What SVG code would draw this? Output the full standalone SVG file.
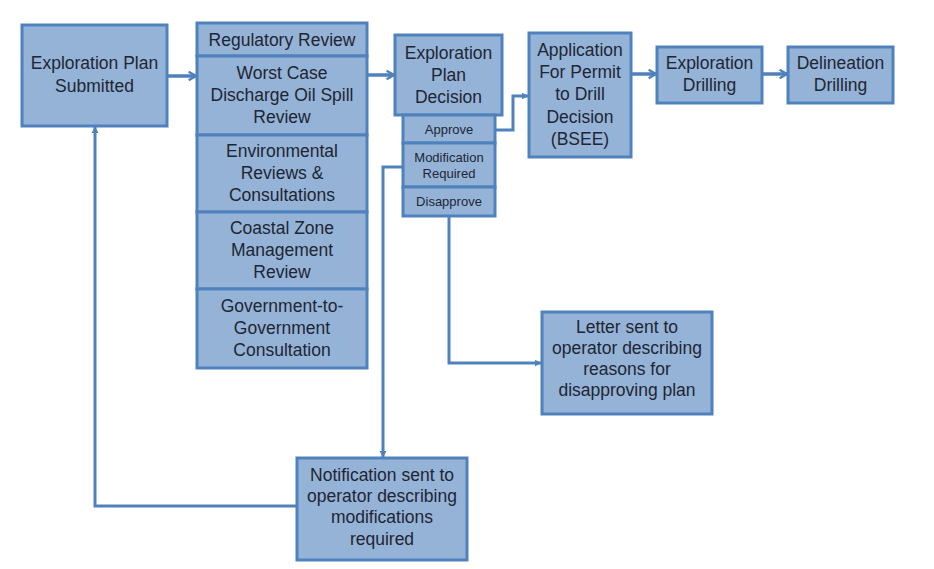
<svg xmlns="http://www.w3.org/2000/svg" width="934" height="569" viewBox="0 0 934 569">
<style>
.b{fill:#95b3d7;stroke:#4f81bd;stroke-width:3}
.t{font-family:"Liberation Sans",Arial,sans-serif;font-size:17.5px;fill:#1e2633;text-anchor:middle}
.s{font-size:13px}
.c{fill:none;stroke:#4f81bd;stroke-width:3.5}
</style>
<defs>
<marker id="a" viewBox="0 0 10 10" refX="8" refY="5" markerWidth="3" markerHeight="3.4" orient="auto" markerUnits="strokeWidth">
<path d="M1,1 L8,5 L1,9" fill="none" stroke="#4f81bd" stroke-width="2.2"/>
</marker>
<marker id="f" viewBox="0 0 10 10" refX="9" refY="5" markerWidth="2.4" markerHeight="2.8" orient="auto" markerUnits="strokeWidth">
<path d="M0,0 L10,5 L0,10 z" fill="#4f81bd"/>
</marker>
</defs>
<rect x="0" y="0" width="934" height="569" fill="#fff"/>
<g id="connectors">
<path class="c" d="M167,76 H196" marker-end="url(#a)"/>
<path class="c" d="M367,75 H394" marker-end="url(#a)"/>
<path class="c" d="M631,74 H656" marker-end="url(#a)"/>
<path class="c" d="M762,74 H787" marker-end="url(#a)"/>
<path class="c" style="stroke-width:3" d="M495,130 H513 V96 H528" marker-end="url(#f)"/>
<path class="c" style="stroke-width:3" d="M404,167 H383 V457" marker-end="url(#f)"/>
<path class="c" style="stroke-width:3" d="M449,216 V363 H541" marker-end="url(#f)"/>
<path class="c" style="stroke-width:3" d="M297,506 H95 V127" marker-end="url(#f)"/>
</g>
<g id="submitted">
<rect class="b" x="22" y="25" width="145" height="101"/>
<text class="t" x="94.5" y="69">Exploration Plan</text>
<text class="t" x="94.5" y="92">Submitted</text>
</g>
<g id="reviews">
<rect class="b" x="197" y="23" width="170" height="33"/>
<text class="t" x="282" y="46">Regulatory Review</text>
<rect class="b" x="197" y="56" width="170" height="79"/>
<text class="t" x="282" y="79">Worst Case</text>
<text class="t" x="282" y="101">Discharge Oil Spill</text>
<text class="t" x="282" y="123">Review</text>
<rect class="b" x="197" y="135" width="170" height="77"/>
<text class="t" x="282" y="157">Environmental</text>
<text class="t" x="282" y="179">Reviews &amp;</text>
<text class="t" x="282" y="201">Consultations</text>
<rect class="b" x="197" y="212" width="170" height="77"/>
<text class="t" x="282" y="234">Coastal Zone</text>
<text class="t" x="282" y="256">Management</text>
<text class="t" x="282" y="278">Review</text>
<rect class="b" x="197" y="289" width="170" height="79"/>
<text class="t" x="282" y="312">Government-to-</text>
<text class="t" x="282" y="334">Government</text>
<text class="t" x="282" y="356">Consultation</text>
</g>
<g id="decision">
<rect class="b" x="395" y="35" width="107" height="80"/>
<text class="t" x="448.5" y="59">Exploration</text>
<text class="t" x="448.5" y="81">Plan</text>
<text class="t" x="448.5" y="103">Decision</text>
</g>
<g id="approve">
<rect class="b" x="403" y="115" width="92" height="28"/>
<text class="t s" x="449" y="134">Approve</text>
</g>
<g id="modification">
<rect class="b" x="403" y="143" width="92" height="44"/>
<text class="t s" x="449" y="162">Modification</text>
<text class="t s" x="449" y="178">Required</text>
</g>
<g id="disapprove">
<rect class="b" x="403" y="187" width="92" height="29"/>
<text class="t s" x="449" y="206">Disapprove</text>
</g>
<g id="apd">
<rect class="b" x="529" y="33" width="102" height="124"/>
<text class="t" x="580" y="56">Application</text>
<text class="t" x="580" y="78">For Permit</text>
<text class="t" x="580" y="100">to Drill</text>
<text class="t" x="580" y="123">Decision</text>
<text class="t" x="580" y="145">(BSEE)</text>
</g>
<g id="exploration-drilling">
<rect class="b" x="657" y="47" width="105" height="56"/>
<text class="t" x="709.5" y="69">Exploration</text>
<text class="t" x="709.5" y="91">Drilling</text>
</g>
<g id="delineation-drilling">
<rect class="b" x="788" y="47" width="105" height="56"/>
<text class="t" x="840.5" y="69">Delineation</text>
<text class="t" x="840.5" y="91">Drilling</text>
</g>
<g id="letter">
<rect class="b" x="542" y="312" width="170" height="102"/>
<text class="t" x="627" y="333">Letter sent to</text>
<text class="t" x="627" y="354">operator describing</text>
<text class="t" x="627" y="375">reasons for</text>
<text class="t" x="627" y="396">disapproving plan</text>
</g>
<g id="notification">
<rect class="b" x="297" y="458" width="170" height="102"/>
<text class="t" x="382" y="481">Notification sent to</text>
<text class="t" x="382" y="502">operator describing</text>
<text class="t" x="382" y="523">modifications</text>
<text class="t" x="382" y="545">required</text>
</g>
</svg>
